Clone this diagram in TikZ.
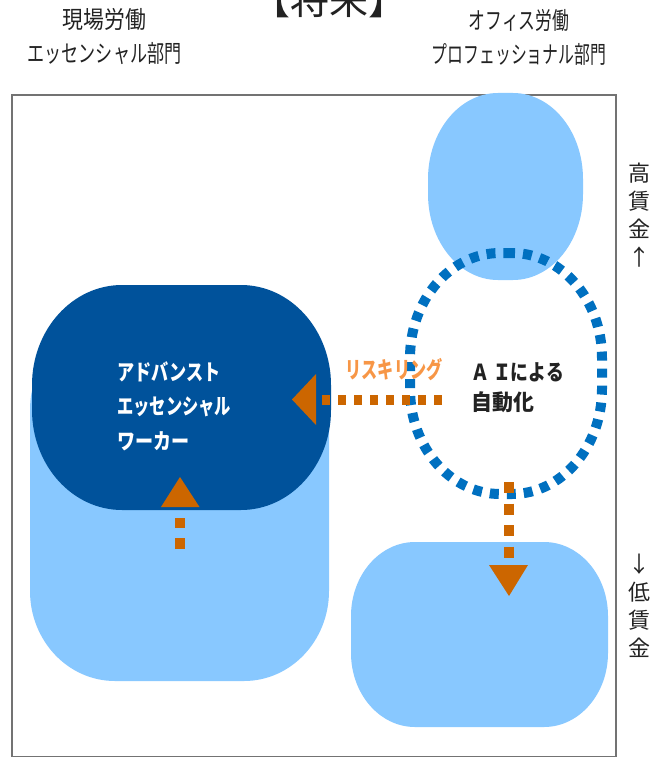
\documentclass[tikz,border=0pt]{standalone}
\usepackage{fontspec}
\usepackage{graphicx}
\setmainfont{Noto Sans CJK JP}
\definecolor{lightb}{HTML}{88C8FF}
\definecolor{darkb}{HTML}{00529B}
\definecolor{ringb}{HTML}{0070C0}
\definecolor{orng}{HTML}{CC6600}
\definecolor{orngl}{HTML}{F79646}
\definecolor{txt}{HTML}{222222}
\tikzset{
  lightblob/.style={fill=lightb},
  ringline/.style={draw=ringb,line width=10pt,dash pattern=on 9pt off 8pt},
  flowv/.style={orng,line width=9.5pt,dash pattern=on 11pt off 10.5pt},
  flowh/.style={orng,line width=10pt,dash pattern=on 8pt off 8pt},
  tip/.style={fill=orng},
  head/.style={txt,font=\fontsize{24}{34}\selectfont,align=center,inner sep=0pt},
  side/.style={txt,font=\fontsize{22}{28}\selectfont,align=center,inner sep=0pt},
  ailabel/.style={txt,font=\fontsize{22}{30}\selectfont\bfseries,align=left,inner sep=0pt,anchor=west},
}
\newcommand{\nar}[2]{\scalebox{#1}[1]{#2}}
% rounded box with elliptical corners: x, y, width, height, rx, ry
\newcommand{\blobpath}[6]{
  ({#1+#3/2},#2) -- ({#1+#3-#5},#2)
  .. controls ({#1+#3-.4477*#5},#2) and ({#1+#3},{#2+.4477*#6}) .. ({#1+#3},{#2+#6})
  -- ({#1+#3},{#2+#4-#6})
  .. controls ({#1+#3},{#2+#4-.4477*#6}) and ({#1+#3-.4477*#5},{#2+#4}) .. ({#1+#3-#5},{#2+#4})
  -- ({#1+#5},{#2+#4})
  .. controls ({#1+.4477*#5},{#2+#4}) and (#1,{#2+#4-.4477*#6}) .. (#1,{#2+#4-#6})
  -- (#1,{#2+#6})
  .. controls (#1,{#2+.4477*#6}) and ({#1+.4477*#5},#2) .. ({#1+#5},#2)
  -- cycle
}
\begin{document}
\begin{tikzpicture}[x=1pt,y=-1pt]
\useasboundingbox (0,0) rectangle (651,757);
\clip (0,0) rectangle (651,757);
\fill[white] (0,0) rectangle (651,757);
% headings
\node[head] (title) at (329,0) {\fontsize{39}{39}\selectfont 【将来】};
\node[head] (left) at (104.5,37) {\nar{.87}{現場労働}\\\nar{.71}{エッセンシャル部門}};
\node[head] (right) at (519,37) {\nar{.70}{オフィス労働}\\\nar{.66}{プロフェッショナル部門}};
% frame
\node[draw=black!55,line width=2pt,minimum width=604pt,minimum height=662pt,inner sep=0pt,anchor=north west] (frame) at (11,94) {};
% blobs
\fill[lightblob] \blobpath{428}{93}{155}{187}{70}{86};
\fill[lightblob] \blobpath{30}{320}{299}{361}{85}{90};
\fill[lightblob] \blobpath{351}{542}{257}{185}{64}{74};
\fill[darkb] \blobpath{32}{285}{299}{225}{90}{100};
% ring
\draw[ringline] \blobpath{410}{253}{192}{241}{90}{105};
% texts in blobs
\node[white,font=\fontsize{22}{34.5}\selectfont\bfseries,align=left,inner sep=0pt,anchor=west] (advt) at (117,406) {\nar{.78}{アドバンスト}\\\nar{.74}{エッセンシャル}\\\nar{.82}{ワーカー}};
\node[ailabel] (ai) at (471,388) {\nar{.81}{Ａ Ｉによる}\\\nar{.95}{自動化}};
\node[orngl,font=\fontsize{23}{23}\selectfont\bfseries,inner sep=0pt] (resk) at (394,370) {\nar{.70}{リスキリング}};
% arrows
\coordinate (lstart) at (322,400);
\coordinate (lend) at (442,400);
\draw[flowh] (lstart) -- (lend);
\fill[tip] (292,399.5) -- (316,374) -- (316,425) -- cycle;
\coordinate (ustart) at (180,549);
\coordinate (uend) at (180,518);
\draw[flowv] (ustart) -- (uend);
\fill[tip] (180,477) -- (199.5,507) -- (161,507) -- cycle;
\coordinate (dstart) at (509,482);
\coordinate (dend) at (509,558);
\draw[flowv] (dstart) -- (dend);
\fill[tip] (489,565) -- (528,565) -- (509,596) -- cycle;
% side labels
\node[side] (hi) at (639,215) {高\\賃\\金\\↑};
\node[side] (lo) at (639,606) {↓\\低\\賃\\金};
\end{tikzpicture}
\end{document}
